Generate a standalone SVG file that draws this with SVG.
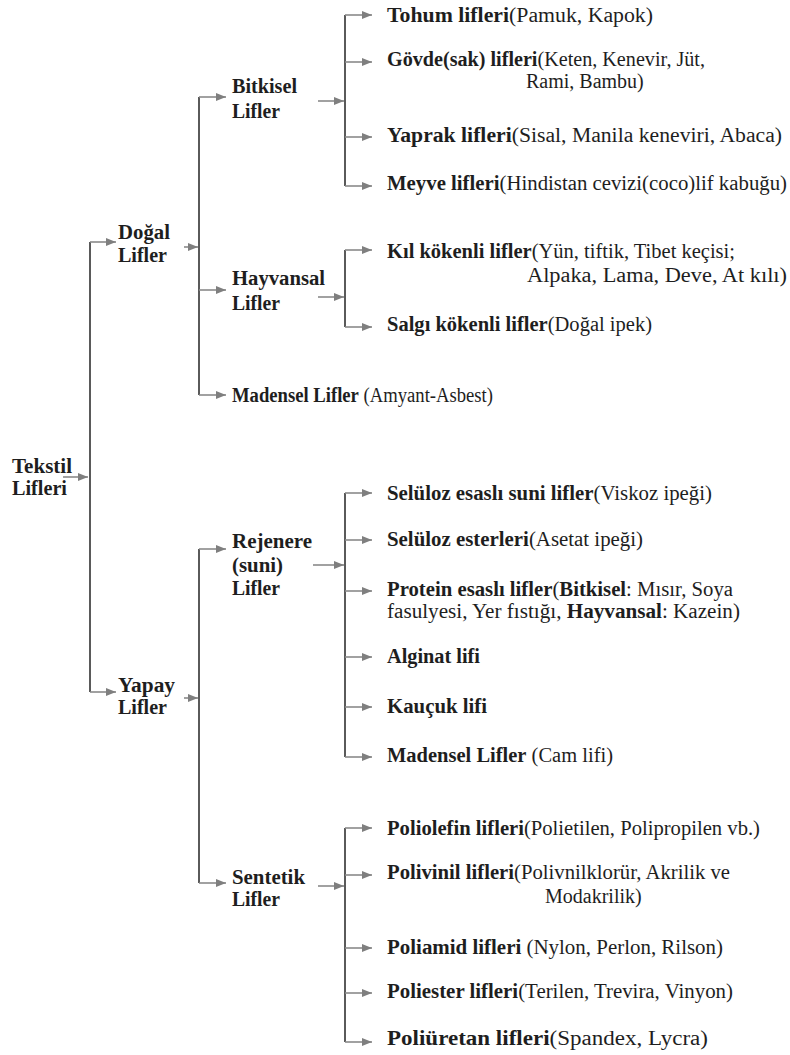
<svg xmlns="http://www.w3.org/2000/svg" width="790" height="1055" viewBox="0 0 790 1055">
<style>
text{font-size:20px;fill:#1e1e1e}
.b{font-weight:bold}
.v{stroke:#5a5a5a;stroke-width:2;fill:none}
.a{stroke:#8a8a8a;stroke-width:1.6;fill:none;marker-end:url(#ah)}
</style>
<defs>
<marker id="ah" markerWidth="10" markerHeight="9" refX="10" refY="4.5" orient="auto" markerUnits="userSpaceOnUse">
<path d="M0,0.5 L10,4.5 L0,8.5 Z" fill="#7f7f7f"/>
</marker>
</defs>
<rect width="790" height="1055" fill="#fff"/>
<g id="connectors">
<line class="a" x1="63" y1="477" x2="88" y2="477"/>
<line class="v" x1="90" y1="242" x2="90" y2="692"/>
<line class="a" x1="90" y1="242" x2="116" y2="242"/>
<line class="a" x1="90" y1="692" x2="116" y2="692"/>
<line class="a" x1="184" y1="247" x2="198" y2="247"/>
<line class="v" x1="199" y1="97" x2="199" y2="395"/>
<line class="a" x1="199" y1="97" x2="226" y2="97"/>
<line class="a" x1="199" y1="290" x2="226" y2="290"/>
<line class="a" x1="199" y1="395" x2="226" y2="395"/>
<line class="a" x1="318" y1="101" x2="344" y2="101"/>
<line class="v" x1="345" y1="15" x2="345" y2="186"/>
<line class="a" x1="345" y1="15" x2="372" y2="15"/>
<line class="a" x1="345" y1="62" x2="372" y2="62"/>
<line class="a" x1="345" y1="137" x2="372" y2="137"/>
<line class="a" x1="345" y1="186" x2="372" y2="186"/>
<line class="a" x1="318" y1="297" x2="344" y2="297"/>
<line class="v" x1="345" y1="250" x2="345" y2="327"/>
<line class="a" x1="345" y1="250" x2="372" y2="250"/>
<line class="a" x1="345" y1="327" x2="372" y2="327"/>
<line class="a" x1="184" y1="698" x2="198" y2="698"/>
<line class="v" x1="199" y1="549" x2="199" y2="883"/>
<line class="a" x1="199" y1="549" x2="226" y2="549"/>
<line class="a" x1="199" y1="883" x2="226" y2="883"/>
<line class="a" x1="313" y1="565" x2="344" y2="565"/>
<line class="v" x1="345" y1="493" x2="345" y2="757"/>
<line class="a" x1="345" y1="493" x2="372" y2="493"/>
<line class="a" x1="345" y1="540" x2="372" y2="540"/>
<line class="a" x1="345" y1="591" x2="372" y2="591"/>
<line class="a" x1="345" y1="657" x2="372" y2="657"/>
<line class="a" x1="345" y1="707" x2="372" y2="707"/>
<line class="a" x1="345" y1="757" x2="372" y2="757"/>
<line class="a" x1="318" y1="886" x2="344" y2="886"/>
<line class="v" x1="345" y1="828" x2="345" y2="1042"/>
<line class="a" x1="345" y1="828" x2="372" y2="828"/>
<line class="a" x1="345" y1="875" x2="372" y2="875"/>
<line class="a" x1="345" y1="948" x2="372" y2="948"/>
<line class="a" x1="345" y1="993" x2="372" y2="993"/>
<line class="a" x1="345" y1="1042" x2="372" y2="1042"/>
</g>
<g font-family="'Liberation Serif', 'DejaVu Serif', 'Times New Roman', serif">
<g id="n-tekstil"><text class="b" x="12" y="473" textLength="60" lengthAdjust="spacingAndGlyphs">Tekstil</text><text class="b" x="12" y="495" textLength="55" lengthAdjust="spacingAndGlyphs">Lifleri</text></g>
<g id="n-dogal"><text class="b" x="118" y="239" textLength="52" lengthAdjust="spacingAndGlyphs">Doğal</text><text class="b" x="118" y="262" textLength="49" lengthAdjust="spacingAndGlyphs">Lifler</text></g>
<g id="n-yapay"><text class="b" x="118" y="692" textLength="57" lengthAdjust="spacingAndGlyphs">Yapay</text><text class="b" x="118" y="714" textLength="49" lengthAdjust="spacingAndGlyphs">Lifler</text></g>
<g id="n-bitkisel"><text class="b" x="232" y="93" textLength="65" lengthAdjust="spacingAndGlyphs">Bitkisel</text><text class="b" x="232" y="118" textLength="48" lengthAdjust="spacingAndGlyphs">Lifler</text></g>
<g id="n-hayvansal"><text class="b" x="232" y="285" textLength="93" lengthAdjust="spacingAndGlyphs">Hayvansal</text><text class="b" x="232" y="310" textLength="48" lengthAdjust="spacingAndGlyphs">Lifler</text></g>
<g id="n-madensel1"><text x="232" y="402" textLength="261" lengthAdjust="spacingAndGlyphs"><tspan class="b">Madensel Lifler</tspan> (Amyant-Asbest)</text></g>
<g id="n-rejenere"><text class="b" x="232" y="548" textLength="80" lengthAdjust="spacingAndGlyphs">Rejenere</text><text class="b" x="232" y="572" textLength="51" lengthAdjust="spacingAndGlyphs">(suni)</text><text class="b" x="232" y="595" textLength="48" lengthAdjust="spacingAndGlyphs">Lifler</text></g>
<g id="n-sentetik"><text class="b" x="232" y="884" textLength="73" lengthAdjust="spacingAndGlyphs">Sentetik</text><text class="b" x="232" y="906" textLength="48" lengthAdjust="spacingAndGlyphs">Lifler</text></g>
<g id="n-tohum"><text x="387" y="22" textLength="266" lengthAdjust="spacingAndGlyphs"><tspan class="b">Tohum lifleri</tspan>(Pamuk, Kapok)</text></g>
<g id="n-govde"><text x="387" y="66" textLength="318" lengthAdjust="spacingAndGlyphs"><tspan class="b">Gövde(sak) lifleri</tspan>(Keten, Kenevir, Jüt,</text><text x="526" y="88">Rami, Bambu)</text></g>
<g id="n-yaprak"><text x="387" y="142" textLength="395" lengthAdjust="spacingAndGlyphs"><tspan class="b">Yaprak lifleri</tspan>(Sisal, Manila keneviri, Abaca)</text></g>
<g id="n-meyve"><text x="387" y="190" textLength="400" lengthAdjust="spacingAndGlyphs"><tspan class="b">Meyve lifleri</tspan>(Hindistan cevizi(coco)lif kabuğu)</text></g>
<g id="n-kil"><text x="387" y="258" textLength="348" lengthAdjust="spacingAndGlyphs"><tspan class="b">Kıl kökenli lifler</tspan>(Yün, tiftik, Tibet keçisi;</text><text x="527" y="282" textLength="260" lengthAdjust="spacingAndGlyphs">Alpaka, Lama, Deve, At kılı)</text></g>
<g id="n-salgi"><text x="387" y="331" textLength="265" lengthAdjust="spacingAndGlyphs"><tspan class="b">Salgı kökenli lifler</tspan>(Doğal ipek)</text></g>
<g id="n-selesasli"><text x="387" y="500" textLength="325" lengthAdjust="spacingAndGlyphs"><tspan class="b">Selüloz esaslı suni lifler</tspan>(Viskoz ipeği)</text></g>
<g id="n-selester"><text x="387" y="546" textLength="256" lengthAdjust="spacingAndGlyphs"><tspan class="b">Selüloz esterleri</tspan>(Asetat ipeği)</text></g>
<g id="n-protein"><text x="387" y="596" textLength="346" lengthAdjust="spacingAndGlyphs"><tspan class="b">Protein esaslı lifler</tspan>(<tspan class="b">Bitkisel</tspan>: Mısır, Soya</text><text x="387" y="618" textLength="353" lengthAdjust="spacingAndGlyphs">fasulyesi, Yer fıstığı, <tspan class="b">Hayvansal</tspan>: Kazein)</text></g>
<g id="n-alginat"><text class="b" x="387" y="663" textLength="93" lengthAdjust="spacingAndGlyphs">Alginat lifi</text></g>
<g id="n-kaucuk"><text class="b" x="387" y="713" textLength="100" lengthAdjust="spacingAndGlyphs">Kauçuk lifi</text></g>
<g id="n-madensel2"><text x="387" y="762" textLength="226" lengthAdjust="spacingAndGlyphs"><tspan class="b">Madensel Lifler</tspan> (Cam lifi)</text></g>
<g id="n-poliolefin"><text x="387" y="835" textLength="373" lengthAdjust="spacingAndGlyphs"><tspan class="b">Poliolefin lifleri</tspan>(Polietilen, Polipropilen vb.)</text></g>
<g id="n-polivinil"><text x="387" y="879" textLength="343" lengthAdjust="spacingAndGlyphs"><tspan class="b">Polivinil lifleri</tspan>(Polivnilklorür, Akrilik ve</text><text x="545" y="903">Modakrilik)</text></g>
<g id="n-poliamid"><text x="387" y="954" textLength="336" lengthAdjust="spacingAndGlyphs"><tspan class="b">Poliamid lifleri</tspan> (Nylon, Perlon, Rilson)</text></g>
<g id="n-poliester"><text x="387" y="998" textLength="346" lengthAdjust="spacingAndGlyphs"><tspan class="b">Poliester lifleri</tspan>(Terilen, Trevira, Vinyon)</text></g>
<g id="n-poliuretan"><text x="387" y="1045" textLength="321" lengthAdjust="spacingAndGlyphs"><tspan class="b">Poliüretan lifleri</tspan>(Spandex, Lycra)</text></g>
</g>
</svg>
